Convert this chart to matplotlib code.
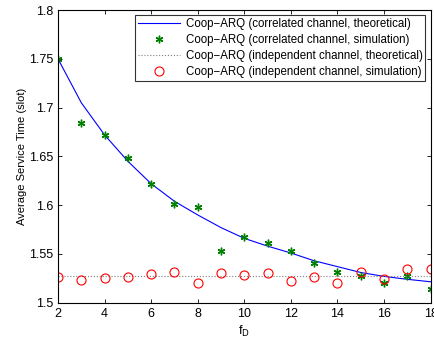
import numpy as np
import matplotlib
matplotlib.use("Agg")
from matplotlib import pyplot as plt

plt.rcParams['font.family'] = ['Liberation Sans', 'DejaVu Sans']

# Doppler values
fd = [2, 3, 4, 5, 6, 7, 8, 9, 10, 11, 12, 13, 14, 15, 16, 17, 18]

# correlated channel
corr_theory = [1.750, 1.705, 1.672, 1.645, 1.622, 1.604, 1.590, 1.577, 1.566,
               1.558, 1.551, 1.543, 1.537, 1.531, 1.527, 1.524, 1.5215]
corr_sim = [1.750, 1.684, 1.672, 1.648, 1.622, 1.601, 1.598, 1.553, 1.567,
            1.561, 1.553, 1.541, 1.532, 1.527, 1.5205, 1.527, 1.514]

# independent channel
indep_theory = 1.5274
indep_sim = [1.5267, 1.5236, 1.5253, 1.526, 1.5294, 1.5318, 1.5198, 1.530,
             1.5284, 1.530, 1.5222, 1.5267, 1.5205, 1.5318, 1.5246, 1.5342,
             1.5342]

yticks = [1.5, 1.55, 1.6, 1.65, 1.7, 1.75, 1.8]
ytick_labels = ['1.5', '1.55', '1.6', '1.65', '1.7', '1.75', '1.8']

fig = plt.figure(figsize=(4.35, 3.39), dpi=100)
ax = fig.add_axes([0.1333, 0.107, 0.8564, 0.8635])

ax.plot(fd, corr_theory, '-', color='#0000ff', lw=0.8,
        label='Coop\u2212ARQ (correlated channel, theoretical)')
ax.plot(fd, corr_sim, linestyle='none', marker=(6, 2, 0), ms=5.5,
        mec='#008000', mew=1.0,
        label='Coop\u2212ARQ (correlated channel, simulation)')
ax.plot(fd, [indep_theory] * len(fd), ':', color='#7f7f7f', lw=0.8,
        label='Coop\u2212ARQ (independent channel, theoretical)')
ax.plot(fd, indep_sim, linestyle='none', marker='o', ms=6.5, mfc='none',
        mec='#ff0000', mew=0.8,
        label='Coop\u2212ARQ (independent channel, simulation)')

ax.set_xlim(2, 18)
ax.set_ylim(1.5, 1.8)
ax.set_xticks(range(2, 19, 2))
ax.set_yticks(yticks)
ax.set_yticklabels(ytick_labels)
ax.tick_params(direction='in', top=True, right=True, labelsize=9,
               length=3, width=0.6)
for s in ax.spines.values():
    s.set_linewidth(0.8)

ax.set_xlabel('f$_{\\rm D}$', fontsize=9, labelpad=3)
ax.set_ylabel('Average Service Time (slot)', fontsize=8, labelpad=1)

leg = ax.legend(loc='upper right', fontsize=8.3, frameon=True, fancybox=False,
                edgecolor='black', borderpad=0.25, labelspacing=0.35,
                handlelength=3.6, handletextpad=0.5, borderaxespad=0.45)
leg.get_frame().set_linewidth(0.8)

fig.savefig('out.png', dpi=100)
